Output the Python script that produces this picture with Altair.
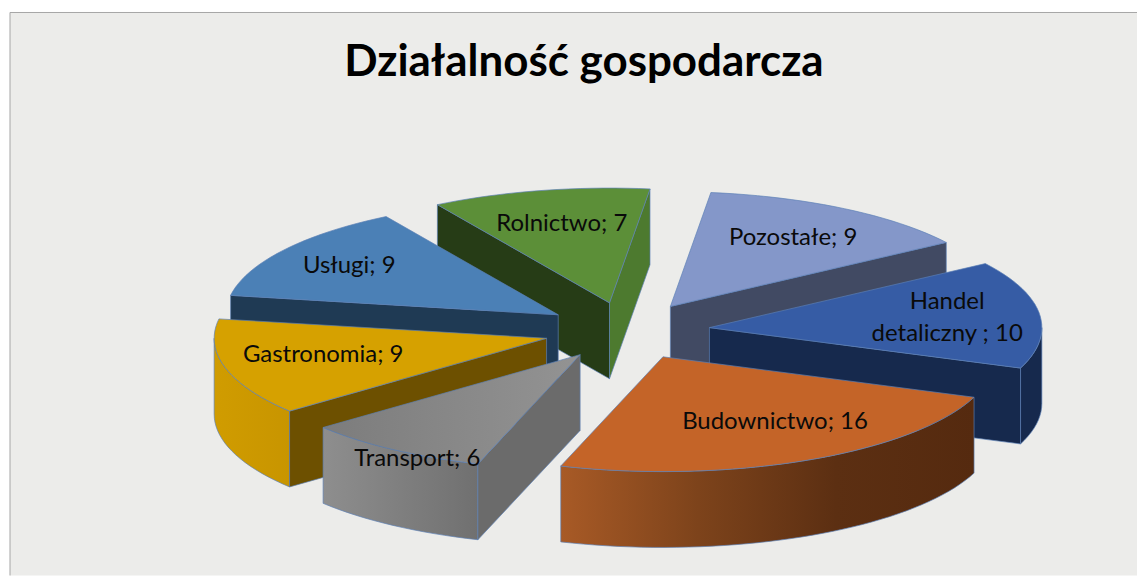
import math
import altair as alt
import pandas as pd

categories = ["Rolnictwo", "Pozostałe", "Handel\ndetaliczny ", "Budownictwo", "Transport", "Gastronomia", "Usługi"]
values = [7, 9, 10, 16, 6, 9, 9]
top_colors = ["#5c8f38", "#8497c9", "#365ca5", "#c46428", "#8c8c8c", "#d6a100", "#4b80b6"]
start_face_colors = ["#263c16", "#414a63", "#16294d", "#55290f", "#6b6b6b", "#6d5000", "#1f3a54"]
end_face_colors = ["#4d7a2f", "#414a63", "#16294d", "#55290f", "#6b6b6b", "#6d5000", "#1f3a54"]
wall_stops = [
    ["#4d7a2f", "#4d7a2f"],
    ["#414a63", "#414a63"],
    ["#16294d", "#16294d"],
    ["#a85a26", "#7d431b", "#5c2f12", "#552a0f"],
    ["#8e8e8e", "#707070"],
    ["#d09c00", "#c89500"],
    ["#1f3a54", "#1f3a54"],
]
transport_top_stops = ["#7c7c7c", "#939393"]
paint_order = [0, 1, 6, 2, 5, 4, 3]
label_fraction = [0.70, 0.70, 0.72, 0.70, 0.95, 0.72, 0.75]
label_nudge = [(1, 0), (1, 0), (0, -16), (11, -7), (15, 14), (8, -4), (-3, 0)]

title_text = "Działalność gospodarcza"
start_angle = 7.0
center_x, center_y = 627.0, 330.0
radius_x, radius_y = 333.0, 115.0
explosion = 0.25
thickness = 76.0
edge = "#5b7fb5"
plot_w, plot_h = 1129, 564

X_SCALE = alt.Scale(domain=[9, 9 + plot_w], range=[0, plot_w], nice=False, zero=False)
Y_SCALE = alt.Scale(domain=[11, 11 + plot_h], range=[0, plot_h], nice=False, zero=False)


def direction(phi):
    r = math.radians(phi)
    return math.sin(r), -math.cos(r)


def on_rim(apex, phi, drop=0.0):
    dx, dy = direction(phi)
    return apex[0] + radius_x * dx, apex[1] + radius_y * dy + drop


def arc(apex, a, b, drop=0.0):
    n = max(2, int(abs(b - a) / 2) + 1)
    return [on_rim(apex, a + (b - a) * k / (n - 1), drop) for k in range(n)]


def horizontal(stops):
    return alt.Gradient(
        gradient="linear", x1=0, x2=1, y1=0, y2=0,
        stops=[alt.GradientStop(color=c, offset=k / (len(stops) - 1)) for k, c in enumerate(stops)],
    )


def polygon(points, fill, stroke=edge, width=0.9):
    pts = list(points) + [points[0]]
    df = pd.DataFrame({"px": [p[0] for p in pts], "py": [p[1] for p in pts], "i": range(len(pts))})
    return alt.Chart(df).mark_line(
        fill=fill, stroke=stroke, strokeWidth=width, strokeOpacity=0.75, interpolate="linear", strokeJoin="round"
    ).encode(
        x=alt.X("px:Q", scale=X_SCALE, axis=None),
        y=alt.Y("py:Q", scale=Y_SCALE, axis=None),
        order="i:Q",
    )


total = sum(values)
bounds = [start_angle - values[0] / total * 360]
for v in values:
    bounds.append(bounds[-1] + v / total * 360)

layers = []
labels = []
for idx in paint_order:
    a, b = bounds[idx], bounds[idx + 1]
    mid = (a + b) / 2
    mx, my = direction(mid)
    apex = (center_x + explosion * radius_x * mx, center_y + explosion * radius_y * my)

    lo, hi = max(a, 90), min(b, 270)
    if hi > lo:
        layers.append(polygon(arc(apex, lo, hi) + arc(apex, hi, lo, thickness), horizontal(wall_stops[idx])))

    if math.sin(math.radians(a)) < 0:
        p = on_rim(apex, a)
        layers.append(polygon([apex, p, (p[0], p[1] + thickness), (apex[0], apex[1] + thickness)], start_face_colors[idx]))
    if math.sin(math.radians(b)) > 0:
        p = on_rim(apex, b)
        layers.append(polygon([apex, p, (p[0], p[1] + thickness), (apex[0], apex[1] + thickness)], end_face_colors[idx]))

    top_fill = horizontal(transport_top_stops) if idx == 4 else top_colors[idx]
    layers.append(polygon([apex] + arc(apex, a, b), top_fill))

    f = label_fraction[idx]
    labels.append({
        "px": apex[0] + f * radius_x * mx + label_nudge[idx][0],
        "py": apex[1] + f * radius_y * my + label_nudge[idx][1],
        "t": f"{categories[idx]}; {values[idx]}",
    })

label_layer = alt.Chart(pd.DataFrame(labels)).mark_text(
    font="Lato", fontSize=24, color="#0a0a0a", align="center", baseline="middle", lineBreak="\n", lineHeight=32
).encode(
    x=alt.X("px:Q", scale=X_SCALE, axis=None),
    y=alt.Y("py:Q", scale=Y_SCALE, axis=None),
    text="t:N",
)

title_layer = alt.Chart(pd.DataFrame({"px": [584], "py": [62], "t": [title_text]})).mark_text(
    font="Lato", fontSize=44, fontWeight="bold", color="#000000", align="center", baseline="middle"
).encode(
    x=alt.X("px:Q", scale=X_SCALE, axis=None),
    y=alt.Y("py:Q", scale=Y_SCALE, axis=None),
    text="t:N",
)

frame_left = alt.Chart(pd.DataFrame({"k": [0]})).mark_rule(color="#a6a6a6", strokeWidth=1).encode(
    x=alt.value(0), y=alt.value(0), y2=alt.value(plot_h)
)
frame_top = alt.Chart(pd.DataFrame({"k": [0]})).mark_rule(color="#a6a6a6", strokeWidth=1).encode(
    y=alt.value(0), x=alt.value(0), x2=alt.value(plot_w)
)

chart = alt.layer(frame_left, frame_top, *layers, label_layer, title_layer).properties(
    width=plot_w, height=plot_h,
    padding={"left": 1, "top": 3, "right": 0, "bottom": 0},
    background="#ffffff",
).configure_view(fill="#ececea", stroke=None)

chart.save("out.html", embed_options={"renderer": "svg", "actions": False})
